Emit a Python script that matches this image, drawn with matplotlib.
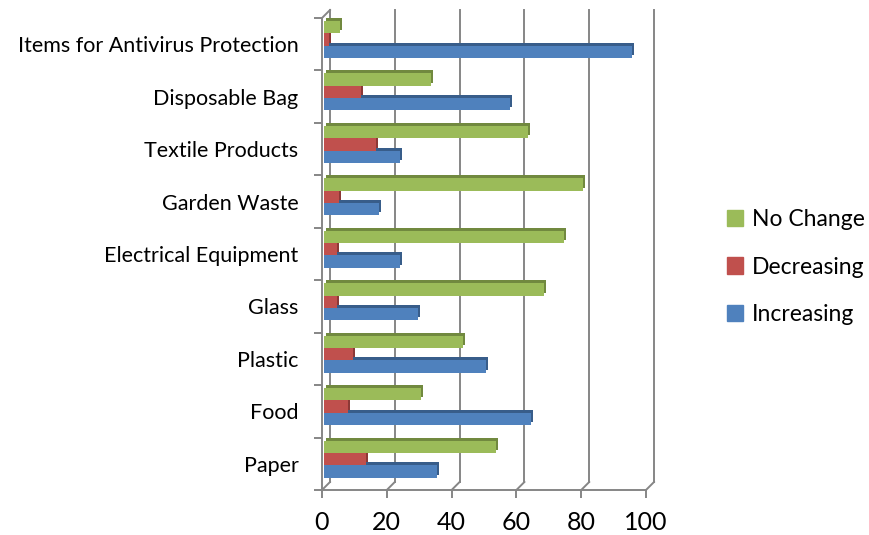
import numpy as np
import matplotlib
matplotlib.use("Agg")
import matplotlib.pyplot as plt
from matplotlib.patches import Patch
from matplotlib.lines import Line2D
from matplotlib.transforms import offset_copy, IdentityTransform

plt.rcParams["font.family"] = ["Lato", "DejaVu Sans"]

# Data
categories = ["Paper", "Food", "Plastic", "Glass", "Electrical Equipment",
              "Garden Waste", "Textile Products", "Disposable Bag",
              "Items for Antivirus Protection"]
increasing = [35, 64, 50, 29, 23.5, 17, 23.5, 57.5, 95]
decreasing = [13, 7.5, 9, 4, 4, 4.5, 16, 11.5, 1.5]
no_change = [53, 30, 43, 68, 74, 80, 63, 33, 5]

series = [("Increasing", increasing, "#4F81BD", "#385D8A", -0.235),
          ("Decreasing", decreasing, "#C0504D", "#8C3836", 0.0),
          ("No Change", no_change, "#9BBB59", "#71893F", 0.235)]
grid_col = "#868686"

fig = plt.figure(figsize=(8.7, 5.35), dpi=100)
ax = fig.add_axes([322 / 870, 45 / 535, 324 / 870, 472 / 535])
ax.set_xlim(0, 100)
ax.set_ylim(-0.5, len(categories) - 0.5)

y = np.arange(len(categories)) + 0.09
h = 0.235
bar_tr = offset_copy(ax.transData, fig=fig, x=2, y=0, units="dots")
depth_tr = offset_copy(ax.transData, fig=fig, x=4, y=3, units="dots")

# depth faces first, then the front faces
for name, vals, col, dark, off in series:
    ax.barh(y + off, vals, height=h, color=dark, transform=depth_tr, zorder=3)
for name, vals, col, dark, off in series:
    ax.barh(y + off, vals, height=h, color=col, transform=bar_tr, zorder=4)

# back wall gridlines and floor diagonals
d = 8
back_tr = offset_copy(ax.transData, fig=fig, x=d, y=d, units="dots")
ymin, ymax = ax.get_ylim()
for v in range(0, 101, 20):
    ax.plot([v, v], [ymin, ymax], color=grid_col, lw=1.4, transform=back_tr,
            clip_on=False, zorder=1)
    p = ax.transData.transform((v, ymin))
    fig.add_artist(Line2D([p[0], p[0] + d], [p[1], p[1] + d], color=grid_col,
                          lw=1.4, transform=IdentityTransform(), zorder=1))
p = ax.transData.transform((0, ymax))
fig.add_artist(Line2D([p[0], p[0] + d], [p[1], p[1] + d], color=grid_col,
                      lw=1.4, transform=IdentityTransform(), zorder=1))

for side in ["top", "right"]:
    ax.spines[side].set_visible(False)
for side in ["left", "bottom"]:
    ax.spines[side].set_color(grid_col)
    ax.spines[side].set_linewidth(1.4)

ax.set_xticks(range(0, 101, 20))
ax.tick_params(axis="x", length=6, width=1.4, color=grid_col, labelsize=18, pad=9)
ax.set_yticks(np.arange(len(categories)))
ax.set_yticklabels(categories)
ax.set_yticks(np.arange(-0.5, len(categories)), minor=True)
ax.tick_params(axis="y", which="major", length=0, labelsize=15.5, pad=17)
ax.tick_params(axis="y", which="minor", length=6, width=1.4, color=grid_col)

handles = [Patch(color=c, label=n) for n, v, c, dk, o in series[::-1]]
ax.legend(handles=handles, loc="center left", frameon=False,
          bbox_to_anchor=(727 / 870, (535 - 267) / 535),
          bbox_transform=fig.transFigure, fontsize=16.5,
          borderpad=0, borderaxespad=0,
          handlelength=0.7, handleheight=0.7, handletextpad=0.4,
          labelspacing=1.15)

fig.savefig("out.png", dpi=100)
